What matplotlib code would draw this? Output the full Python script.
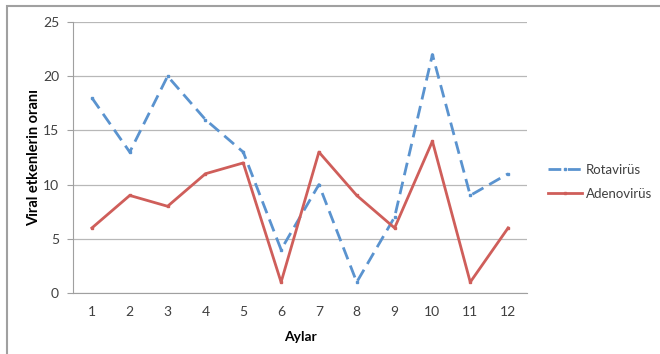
import matplotlib
matplotlib.use("Agg")
import matplotlib.pyplot as plt
from matplotlib.patches import Rectangle

months = ["1", "2", "3", "4", "5", "6", "7", "8", "9", "10", "11", "12"]
rotavirus = [18, 13, 20, 16, 13, 4, 10, 1, 7, 22, 9, 11]
adenovirus = [6, 9, 8, 11, 12, 1, 13, 9, 6, 14, 1, 6]
yticks = [0, 5, 10, 15, 20, 25]

plt.rcParams['font.family'] = ['Lato', 'DejaVu Sans']

fig = plt.figure(figsize=(6.6, 3.54), dpi=100)
ax = fig.add_axes([73/660, 1-293/354, (527-73)/660, (293-22)/354])

x = list(range(1, len(months)+1))
blue = "#5A93CF"
red = "#CF5E5A"
ax.plot(x, rotavirus, color=blue, lw=2.0, dashes=(4.6, 2.4), marker='s', ms=2.0,
        mfc=blue, mec=blue, label="Rotavirüs")
ax.plot(x, adenovirus, color=red, lw=2.0, marker='s', ms=2.0,
        mfc=red, mec=red, label="Adenovirüs")

ax.set_xlim(0.5, 12.5)
ax.set_ylim(0, 25)
ax.set_yticks(yticks)
ax.set_xticks(x)
ax.set_xticklabels(months)
ax.grid(axis='y', color='#B8B8B8', lw=0.9)
ax.set_axisbelow(True)
for s in ['top', 'right']:
    ax.spines[s].set_visible(False)
ax.spines['left'].set_color('#A0A0A0')
ax.spines['bottom'].set_color('#A0A0A0')
ax.tick_params(axis='y', length=4, color='#A0A0A0', labelsize=10, labelcolor='#404040', pad=6)
ax.tick_params(axis='x', length=0, labelsize=10, labelcolor='#404040', pad=9)

ax.set_xlabel("Aylar", fontsize=10, fontweight='bold', labelpad=10)
ax.set_ylabel("Viral etkenlerin oranı", fontsize=10.5, fontweight='bold', labelpad=1)

ax.legend(loc='center left', bbox_to_anchor=(1.046, 0.41), frameon=False,
          fontsize=9.5, handlelength=2.6, handletextpad=0.25, labelspacing=0.9,
          borderpad=0, borderaxespad=0, labelcolor='#404040')

fig.patches.append(Rectangle((7/660, -0.1), 1.1, 1 - 6/354 + 0.1, transform=fig.transFigure,
                             fill=False, edgecolor='#A0A0A0', lw=1.5))

fig.savefig("out.png", dpi=100)
